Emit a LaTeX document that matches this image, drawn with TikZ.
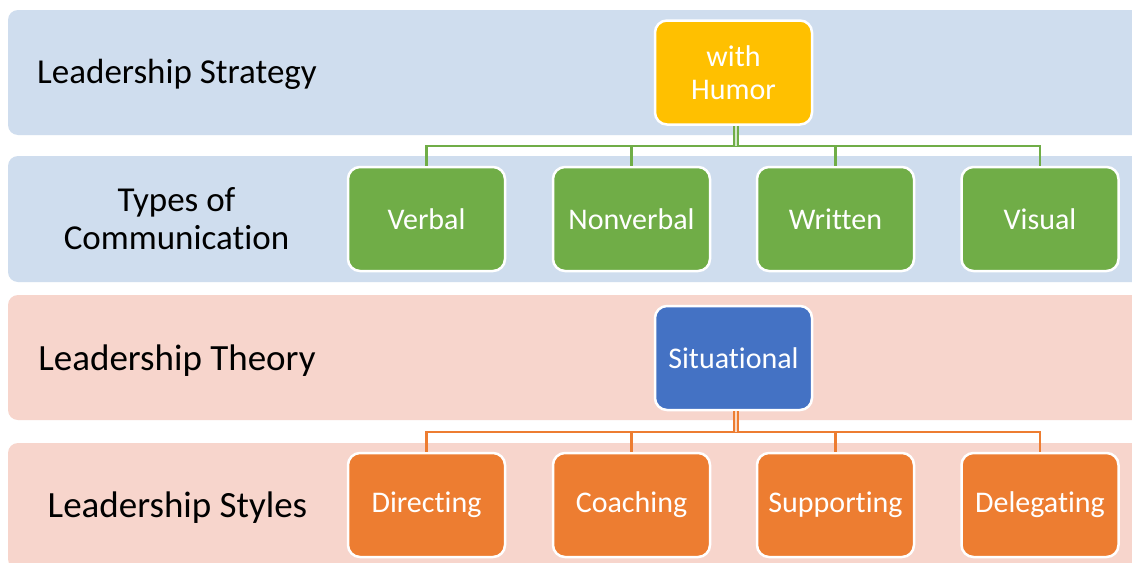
\documentclass[tikz,border=0pt]{standalone}
\usepackage{fontspec}
\setmainfont{Carlito}[Ligatures=NoCommon]
\definecolor{bandblue}{HTML}{CFDDEE}
\definecolor{bandpink}{HTML}{F7D5CC}
\definecolor{cyellow}{HTML}{FFC000}
\definecolor{cgreen}{HTML}{70AD47}
\definecolor{cblue}{HTML}{4472C4}
\definecolor{corange}{HTML}{ED7D31}
\tikzset{
  band/.style={rounded corners=10pt},
  box/.style={draw=white, line width=2.5pt, rounded corners=12pt, minimum width=157pt,
    minimum height=104pt, inner sep=0pt, text=white, align=center,
    font=\fontsize{30}{33}\selectfont},
  lbl/.style={text=black, align=center, font=\fontsize{35}{38}\selectfont, inner sep=0pt},
  lblbig/.style={lbl, font=\fontsize{37}{40}\selectfont},
  bus/.style={line width=2.5pt},
  trunk/.style={line width=2.2pt, double distance=1.8pt}
}
\begin{document}
\begin{tikzpicture}[x=1pt,y=-1pt]
\clip (0,0) rectangle (1132,562);
\fill[white] (0,0) rectangle (1132,562);
% bands
\fill[band, bandblue] (8,10) rectangle (1160,135);
\fill[band, bandblue] (8,156) rectangle (1160,282);
\fill[band, bandpink] (8,295) rectangle (1160,420);
\fill[band, bandpink] (8,443) rectangle (1160,569);
% labels
\node[lbl, anchor=base] (l1) at (177,83) {Leadership Strategy};
\node[lbl] (l2) at (176.5,219) {Types of\\Communication};
\node[lblbig, anchor=base] (l3) at (177,370) {Leadership Theory};
\node[lblbig, anchor=base] (l4) at (177.5,517) {Leadership Styles};
% nodes
\node[box, fill=cyellow] (humor) at (733.5,72.5) {with\\Humor};
\node[box, fill=cgreen] (verbal) at (426.5,219) {Verbal};
\node[box, fill=cgreen] (nonverbal) at (631.5,219) {Nonverbal};
\node[box, fill=cgreen] (written) at (835.5,219) {Written};
\node[box, fill=cgreen] (visual) at (1040,219) {Visual};
\node[box, fill=cblue] (situational) at (733.5,358) {Situational};
\node[box, fill=corange] (directing) at (426.5,505) {Directing};
\node[box, fill=corange] (coaching) at (631.5,505) {Coaching};
\node[box, fill=corange] (supporting) at (835.5,505) {Supporting};
\node[box, fill=corange] (delegating) at (1040,505) {Delegating};
% connectors
\coordinate (bus1) at (736,146);
\coordinate (bus2) at (736,432);
\begin{scope}[cgreen]
\foreach \c in {verbal,nonverbal,written,visual}
  \draw[bus] (\c.north) |- (bus1);
\draw[trunk, double=cgreen!30!white] ([xshift=2.5pt]humor.south) -- (bus1);
\end{scope}
\begin{scope}[corange]
\foreach \c in {directing,coaching,supporting,delegating}
  \draw[bus] (\c.north) |- (bus2);
\draw[trunk, double=corange!30!white] ([xshift=2.5pt]situational.south) -- (bus2);
\end{scope}
\end{tikzpicture}
\end{document}
